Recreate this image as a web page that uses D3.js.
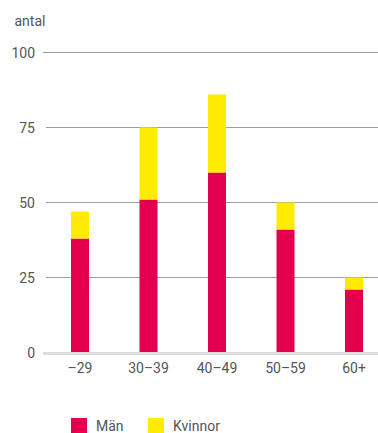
<!DOCTYPE html>
<html><head><meta charset="utf-8">
<script src="https://cdn.jsdelivr.net/npm/d3@7"></script>
<style>
html,body{margin:0;padding:0;background:#fff;}
svg{display:block;font-family:Roboto,"DejaVu Sans",sans-serif;}
</style></head>
<body><svg id="c" width="378" height="433"></svg>
<script>
const categories = ["\u201329", "30\u201339", "40\u201349", "50\u201359", "60+"];
const man = [38, 51, 60, 41, 21];
const kvinnor = [9, 24, 26, 9, 4];
const seriesNames = ["Män", "Kvinnor"];
const seriesColors = ["#E4004F", "#FFEB00"];
const yTicks = [0, 25, 50, 75, 100];

const svg = d3.select("#c");
const textColor = "#555";

const x = d3.scaleBand().domain(categories).range([46, 388]).paddingInner(0.737).paddingOuter(0.365);
const y = d3.scaleLinear().domain([0, 100]).range([352.5, 52.5]);

// gridlines
svg.append("g").selectAll("line").data(yTicks.filter(d => d > 0)).join("line")
  .attr("x1", d => d === 100 ? 43 : 46).attr("x2", 378)
  .attr("y1", d => y(d)).attr("y2", d => y(d))
  .attr("stroke", "#9e9e9e").attr("stroke-width", 1.2);

// y labels
svg.append("g").selectAll("text").data(yTicks).join("text")
  .attr("x", 35).attr("y", d => y(d)).attr("dy", "0.36em")
  .attr("text-anchor", "end").attr("fill", textColor).attr("font-size", 14)
  .text(d => d);

svg.append("text").attr("x", 14.5).attr("y", 26).attr("fill", textColor)
  .attr("font-size", 14).text("antal");

// stacked bars
const rows = categories.map((c, i) => ({cat: c, "Män": man[i], "Kvinnor": kvinnor[i]}));
const stack = d3.stack().keys(seriesNames)(rows);
svg.append("g").selectAll("g").data(stack).join("g")
  .attr("fill", (d, i) => seriesColors[i])
  .selectAll("rect").data(d => d).join("rect")
  .attr("x", d => x(d.data.cat)).attr("width", x.bandwidth())
  .attr("y", d => y(d[1])).attr("height", d => y(d[0]) - y(d[1]));

// zero line
svg.append("line").attr("x1", 43).attr("x2", 378)
  .attr("y1", y(0) + 1).attr("y2", y(0) + 1)
  .attr("stroke", "#dcdcdc").attr("stroke-width", 3);

// x labels
const xAxis = svg.append("g").attr("transform", `translate(0,${y(0) + 3})`)
  .call(d3.axisBottom(x).tickSize(0).tickPadding(8));
xAxis.select(".domain").remove();
xAxis.selectAll("text").attr("fill", textColor).attr("font-size", 14)
  .attr("font-family", "Roboto, sans-serif");

// legend
const lg = svg.append("g").selectAll("g").data(seriesNames).join("g")
  .attr("transform", (d, i) => `translate(${71 + i * 77},418)`);
lg.append("rect").attr("width", 16).attr("height", 16).attr("fill", (d, i) => seriesColors[i]);
lg.append("text").attr("x", 25).attr("y", 13).attr("fill", textColor)
  .attr("font-size", 14).text(d => d);
</script></body></html>
